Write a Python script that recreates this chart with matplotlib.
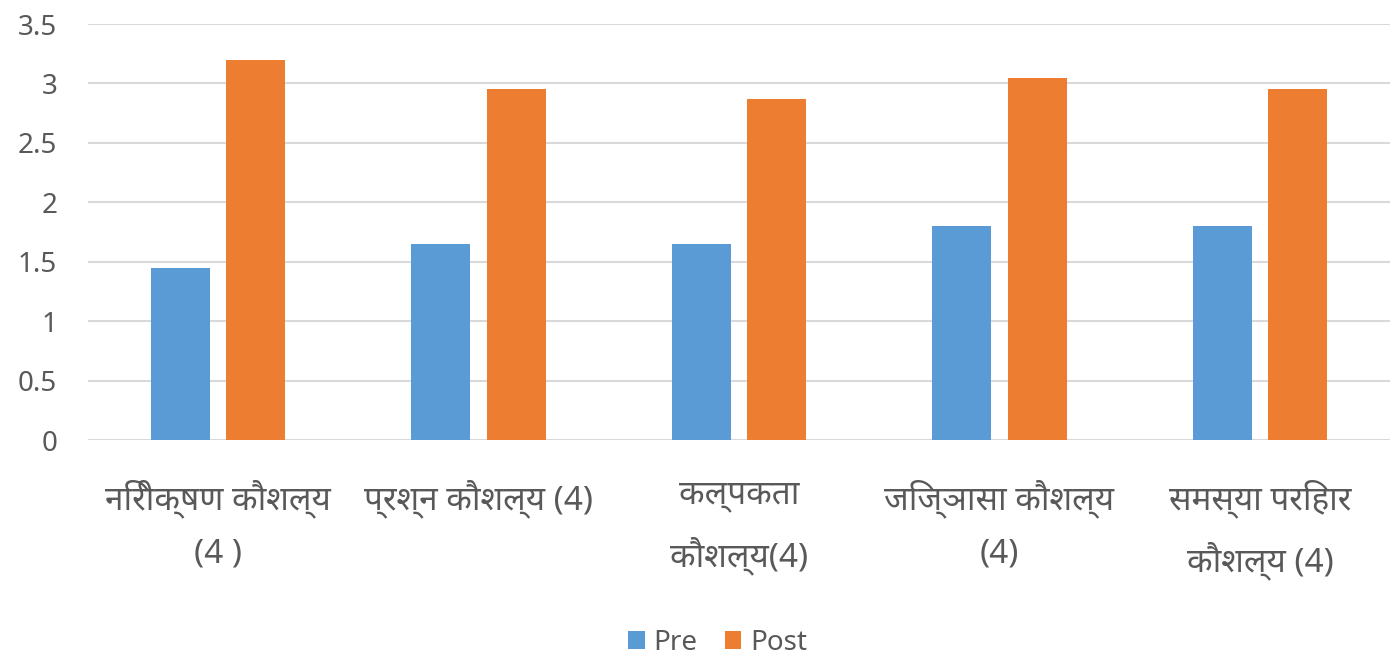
import matplotlib
matplotlib.use("Agg")
import matplotlib.pyplot as plt
import numpy as np

categories = ["निरीक्षण कौशल्य\n(4 )", "प्रश्न कौशल्य (4)", "कल्पकता\nकौशल्य(4)",
              "जिज्ञासा कौशल्य\n(4)", "समस्या परिहार\nकौशल्य (4)"]
pre = [1.45, 1.65, 1.65, 1.8, 1.8]
post = [3.2, 2.95, 2.87, 3.05, 2.95]
yticks = [0, 0.5, 1, 1.5, 2, 2.5, 3, 3.5]
ytick_labels = ["0", "0.5", "1", "1.5", "2", "2.5", "3", "3.5"]

plt.rcParams['font.family'] = ['Noto Sans', 'DejaVu Sans']
fig = plt.figure(figsize=(13.93, 6.6), dpi=100)
ax = fig.add_axes([0.063, 0.3333, 0.935, 0.6303])
x = np.arange(len(categories))
w = 0.225
ax.bar(x - 0.145, pre, w, color="#5B9BD5", label="Pre", zorder=3)
ax.bar(x + 0.145, post, w, color="#ED7D31", label="Post", zorder=3)
ax.set_xlim(-0.5, len(categories) - 0.5)
ax.set_ylim(0, 3.5)
ax.set_yticks(yticks)
ax.set_yticklabels(ytick_labels)
ax.set_xticks(x)
ax.set_xticklabels(categories, linespacing=1.8, va='top')
ax.tick_params(axis='both', length=0, colors="#595959")
ax.tick_params(axis='x', labelsize=24, pad=28)
ax.tick_params(axis='y', labelsize=20, pad=22)
ax.yaxis.grid(True, color="#D9D9D9", linewidth=1.5, zorder=0)
for s in ax.spines.values():
    s.set_visible(False)
leg = fig.legend(loc='center', bbox_to_anchor=(0.515, 0.026), ncol=2, frameon=False,
                 fontsize=20, handlelength=0.6, handleheight=0.6, handletextpad=0.3,
                 columnspacing=1.0)
for t in leg.get_texts():
    t.set_color("#595959")
fig.savefig("out.png", dpi=100, facecolor="white")
